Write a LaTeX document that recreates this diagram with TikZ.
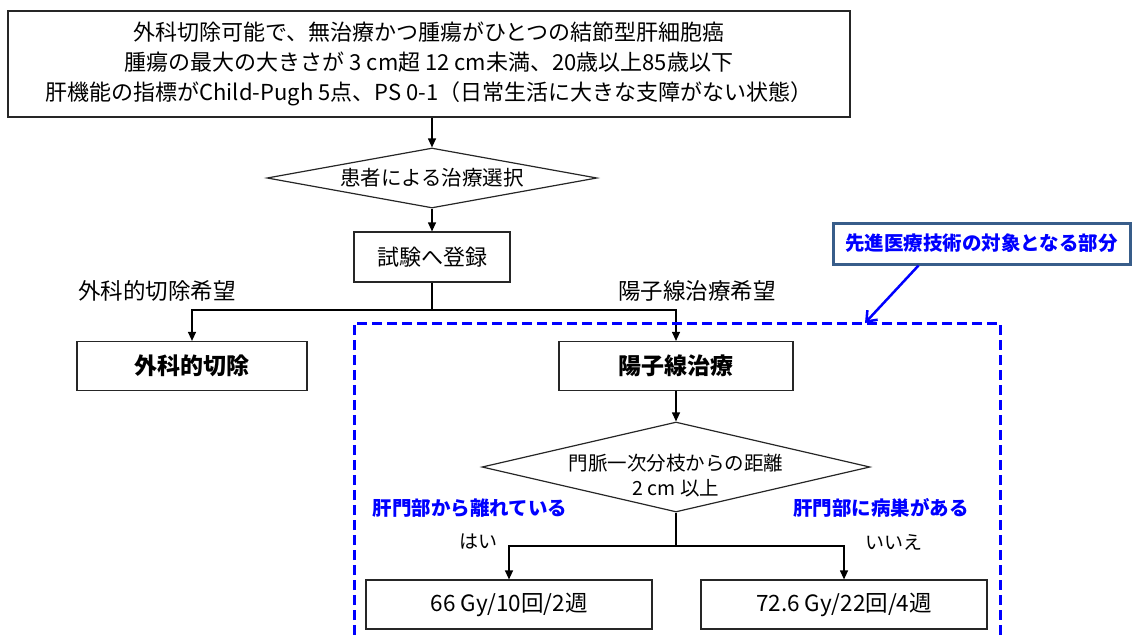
\documentclass[tikz,border=0pt]{standalone}
\usepackage{fontspec}
\setmainfont{Noto Sans CJK JP}
\usepackage{xcolor}
\usepackage{tikz}
\usetikzlibrary{shapes.geometric}
\usetikzlibrary{arrows.meta}
\definecolor{zoneblue}{RGB}{0,0,255}
\definecolor{calloutedge}{RGB}{56,93,138}

\begin{document}
\begin{tikzpicture}[x=1pt,y=-1pt,
    box/.style={draw=black!85,line width=1.2pt,fill=white,inner sep=0pt},
    decide/.style={draw=black!85,line width=1.2pt,diamond,inner sep=0pt},
    flow/.style={line width=1.2pt,-{Triangle[length=9pt,width=8pt]}},
    link/.style={line width=1.2pt},
    note/.style={font=\fontsize{22.5}{26}\selectfont},
    reply/.style={font=\fontsize{19}{22}\selectfont},
    dose/.style={box,minimum width=286pt,minimum height=49pt,font=\fontsize{22.5}{26}\selectfont},
    hot/.style={font=\bfseries\fontsize{19.5}{22}\selectfont,text=zoneblue}]
  \useasboundingbox (0,0) rectangle (1134,634);
  % eligibility and choice
  \node[box,minimum width=842pt,minimum height=106pt,align=center,
    font=\fontsize{22}{30}\selectfont] (crit) at (429,64)
    {外科切除可能で、無治療かつ腫瘍がひとつの結節型肝細胞癌\\
     腫瘍の最大の大きさが 3 cm超 12 cm未満、20歳以上85歳以下\\
     肝機能の指標がChild-Pugh 5点、PS 0-1（日常生活に大きな支障がない状態）};
  \node[decide,minimum width=330pt,minimum height=60pt,
    label={[font=\fontsize{20.5}{24}\selectfont]center:患者による治療選択}] (choice) at (432,178) {};
  \node[box,minimum width=156pt,minimum height=50pt,
    font=\fontsize{22}{26}\selectfont] (enroll) at (432,257) {試験へ登録};
  \coordinate (split) at (432,310);
  \node[note] (wantcut) at (157,291) {外科的切除希望};
  \node[note] (wantpbt) at (697,291) {陽子線治療希望};
  \node[box,minimum width=230pt,minimum height=49pt,
    font=\bfseries\fontsize{23}{26}\selectfont] (surgery) at (192,366) {外科的切除};
  \node[box,minimum width=234pt,minimum height=49pt,
    font=\bfseries\fontsize{23}{26}\selectfont] (proton) at (676,366) {陽子線治療};
  \draw[flow] (crit.south -| choice.north) -- (choice.north);
  \draw[flow] (choice) -- (enroll);
  \draw[link] (enroll) -- (split);
  \draw[flow] (split) -| (surgery.north);
  \draw[flow] (split) -| (proton.north);
  % proton arm
  \node[decide,minimum width=388pt,minimum height=90pt,
    label={[align=center,yshift=-9pt,font=\fontsize{19.5}{25}\selectfont]center:門脈一次分枝からの距離\\2 cm 以上}] (dist) at (676,467) {};
  \coordinate (fork) at (676,546);
  \node[hot] (far) at (470,508) {肝門部から離れている};
  \node[hot] (near) at (881,508) {肝門部に病巣がある};
  \node[reply] (yes) at (478,542) {はい};
  \node[reply] (no) at (894,542) {いいえ};
  \node[dose] (shortrx) at (509,604.5) {66 Gy/10回/2週};
  \node[dose] (longrx) at (844,604.5) {72.6 Gy/22回/4週};
  \draw[flow] (proton) -- (dist);
  \draw[link] (dist.south) -- (fork);
  \draw[flow] (fork) -| (shortrx.north);
  \draw[flow] (fork) -| (longrx.north);
  % advanced medical care zone
  \draw[zoneblue,line width=3pt,dash pattern=on 10pt off 5pt]
    (354,650) |- (1000,323) -- (1000,650);
  \coordinate (zonetip) at (865,323);
  \node[draw=calloutedge,line width=3pt,fill=white,minimum width=297pt,minimum height=41pt,
    text=zoneblue,font=\bfseries\fontsize{19.5}{22}\selectfont] (scope) at (981.5,243.5)
    {先進医療技術の対象となる部分};
  \draw[zoneblue,line width=2.5pt,-{Straight Barb[length=9pt,width=14pt]}]
    ([xshift=-63pt]scope.south) -- (zonetip);
\end{tikzpicture}
\end{document}
